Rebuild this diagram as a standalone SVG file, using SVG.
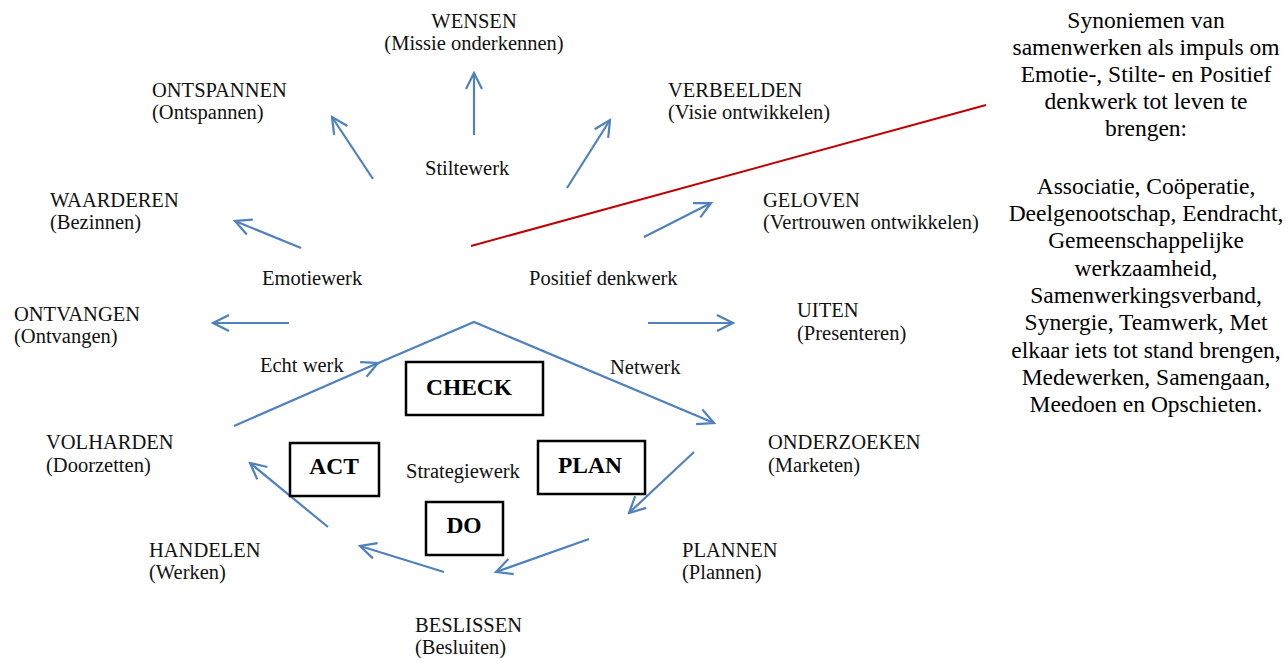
<svg xmlns="http://www.w3.org/2000/svg" width="1288" height="658" viewBox="0 0 1288 658">
<style>
.lbl{font-family:"Liberation Serif","Times New Roman",serif;font-size:20.5px;fill:#111}
.side{font-family:"Liberation Serif","Times New Roman",serif;font-size:23.5px;fill:#000;text-anchor:middle}
.box{fill:#fff;stroke:#000;stroke-width:2.5}
.bt{font-family:"Liberation Serif","Times New Roman",serif;font-size:23.5px;font-weight:bold;fill:#000;text-anchor:middle}
.arr{fill:none;stroke:#4f81bd;stroke-width:2.2;marker-end:url(#ah)}
</style>
<defs>
<marker id="ah" viewBox="0 0 20 20" refX="18" refY="10" markerWidth="20" markerHeight="20" markerUnits="userSpaceOnUse" orient="auto">
<path d="M2,2 L18,10 L2,18" fill="none" stroke="#4f81bd" stroke-width="2.2"/>
</marker>
</defs>
<rect width="1288" height="658" fill="#fff"/>
<g id="connectors">
<line class="arr" x1="474" y1="135" x2="474" y2="73"/>
<line class="arr" x1="373" y1="179" x2="332" y2="117"/>
<line class="arr" x1="567" y1="188" x2="610" y2="120"/>
<line class="arr" x1="301" y1="248" x2="235" y2="221"/>
<line class="arr" x1="644" y1="237" x2="711" y2="203"/>
<line class="arr" x1="289" y1="323" x2="213" y2="323"/>
<line class="arr" x1="648" y1="323" x2="733" y2="323"/>
<line class="arr" x1="234" y1="426" x2="378" y2="363"/>
<polyline class="arr" points="376,364 474,322 714,423"/>
<line class="arr" x1="694" y1="452" x2="629" y2="513"/>
<line class="arr" x1="589" y1="539" x2="496" y2="572"/>
<line class="arr" x1="444" y1="572" x2="360" y2="546"/>
<line class="arr" x1="328" y1="527" x2="250" y2="463"/>
<line x1="471" y1="246" x2="986" y2="105" stroke="#c00000" stroke-width="2"/>
</g>
<g id="wensen"><text class="lbl" x="474" y="28" text-anchor="middle">WENSEN</text><text class="lbl" x="474" y="50" text-anchor="middle">(Missie onderkennen)</text></g>
<g id="ontspannen"><text class="lbl" x="152" y="97">ONTSPANNEN</text><text class="lbl" x="152" y="119">(Ontspannen)</text></g>
<g id="verbeelden"><text class="lbl" x="668" y="97">VERBEELDEN</text><text class="lbl" x="668" y="119">(Visie ontwikkelen)</text></g>
<g id="waarderen"><text class="lbl" x="50" y="207">WAARDEREN</text><text class="lbl" x="50" y="229">(Bezinnen)</text></g>
<g id="geloven"><text class="lbl" x="763" y="207">GELOVEN</text><text class="lbl" x="763" y="229">(Vertrouwen ontwikkelen)</text></g>
<g id="ontvangen"><text class="lbl" x="14" y="321">ONTVANGEN</text><text class="lbl" x="14" y="343">(Ontvangen)</text></g>
<g id="uiten"><text class="lbl" x="797" y="317">UITEN</text><text class="lbl" x="797" y="340">(Presenteren)</text></g>
<g id="volharden"><text class="lbl" x="46" y="449">VOLHARDEN</text><text class="lbl" x="46" y="472">(Doorzetten)</text></g>
<g id="onderzoeken"><text class="lbl" x="768" y="449">ONDERZOEKEN</text><text class="lbl" x="768" y="472">(Marketen)</text></g>
<g id="handelen"><text class="lbl" x="149" y="557">HANDELEN</text><text class="lbl" x="149" y="579">(Werken)</text></g>
<g id="plannen"><text class="lbl" x="682" y="557">PLANNEN</text><text class="lbl" x="682" y="579">(Plannen)</text></g>
<g id="beslissen"><text class="lbl" x="415" y="632">BESLISSEN</text><text class="lbl" x="415" y="654">(Besluiten)</text></g>
<g id="stiltewerk"><text class="lbl" x="425" y="175">Stiltewerk</text></g>
<g id="emotiewerk"><text class="lbl" x="262" y="285">Emotiewerk</text></g>
<g id="positief"><text class="lbl" x="529" y="285">Positief denkwerk</text></g>
<g id="echtwerk"><text class="lbl" x="260" y="372">Echt werk</text></g>
<g id="netwerk"><text class="lbl" x="610" y="374">Netwerk</text></g>
<g id="strategiewerk"><text class="lbl" x="406" y="478">Strategiewerk</text></g>
<g id="check"><rect class="box" x="406" y="362" width="137" height="53"/><text class="bt" x="469" y="395">CHECK</text></g>
<g id="act"><rect class="box" x="290" y="443" width="89" height="53"/><text class="bt" x="334" y="474">ACT</text></g>
<g id="plan"><rect class="box" x="538" y="441" width="107" height="53"/><text class="bt" x="590" y="473">PLAN</text></g>
<g id="do"><rect class="box" x="426" y="502" width="77" height="53"/><text class="bt" x="464" y="533">DO</text></g>
<g id="synoniemen">
<text class="side" x="1146" y="28">Synoniemen van</text>
<text class="side" x="1146" y="55">samenwerken als impuls om</text>
<text class="side" x="1146" y="82">Emotie-, Stilte- en Positief</text>
<text class="side" x="1146" y="109">denkwerk tot leven te</text>
<text class="side" x="1146" y="136">brengen:</text>
<text class="side" x="1146" y="194">Associatie, Coöperatie,</text>
<text class="side" x="1146" y="221">Deelgenootschap, Eendracht,</text>
<text class="side" x="1146" y="248">Gemeenschappelijke</text>
<text class="side" x="1146" y="276">werkzaamheid,</text>
<text class="side" x="1146" y="303">Samenwerkingsverband,</text>
<text class="side" x="1146" y="330">Synergie, Teamwerk, Met</text>
<text class="side" x="1146" y="358">elkaar iets tot stand brengen,</text>
<text class="side" x="1146" y="385">Medewerken, Samengaan,</text>
<text class="side" x="1146" y="412">Meedoen en Opschieten.</text>
</g>
</svg>
